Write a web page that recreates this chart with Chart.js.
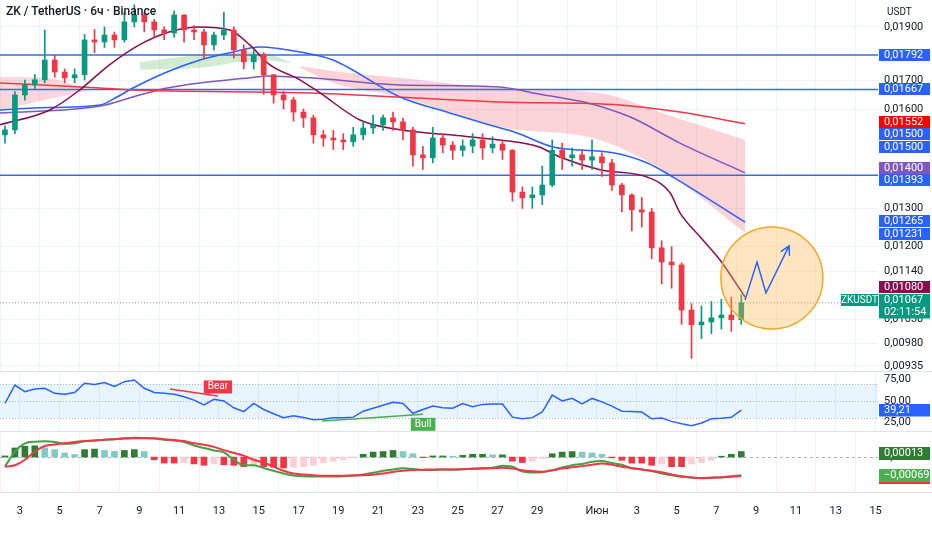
<!DOCTYPE html>
<html>
<head>
  <meta charset="UTF-8">
  <title>ZK / TetherUS · 6ч · Binance</title>
  <script src="https://cdn.jsdelivr.net/npm/chart.js"></script>
  <style>
    body { margin: 0; background: #fff; font-family: Roboto, "Noto Sans", Arial; width: 932px; height: 550px; overflow: hidden; position: relative; }
    canvas { position: absolute; left: 0; }
    #title { position: absolute; left: 6px; top: 4px; font-size: 12px; color: #131722; font-weight: 500; z-index: 2; }
    #unit { position: absolute; left: 887px; top: 6px; font-size: 10px; color: #131722; z-index: 2; }
  </style>
</head>
<body>
  <div id="title">ZK / TetherUS · 6ч · Binance</div>
  <div id="unit">USDT</div>
  <canvas id="main" width="932" height="372" style="top:0"></canvas>
  <canvas id="rsi" width="932" height="60" style="top:372px"></canvas>
  <canvas id="macd" width="932" height="118" style="top:432px"></canvas>

  <script>
    // 12h candles, first one centred on 2 May 06:00 (x in days of May)
    const firstOpen = 0.01516;
    const closes = [0.01532,0.01648,0.01683,0.01701,0.01773,0.01729,0.01708,0.01719,0.01849,0.01841,
      0.01868,0.01849,0.01920,0.01948,0.01920,0.01888,0.01876,0.01948,0.01888,0.01880,
      0.01830,0.01868,0.01888,0.01811,0.01766,0.01792,0.01719,0.01648,0.01631,0.01590,
      0.01571,0.01516,0.01506,0.01500,0.01494,0.01516,0.01538,0.01548,0.01571,0.01558,
      0.01532,0.01454,0.01445,0.01506,0.01484,0.01468,0.01481,0.01500,0.01475,0.01487,
      0.01468,0.01345,0.01329,0.01337,0.01365,0.01468,0.01445,0.01454,0.01438,0.01448,
      0.01430,0.01365,0.01337,0.01296,0.01290,0.01197,0.01162,0.01155,0.01051,0.01019,
      0.01025,0.01034,0.01040,0.01030,0.01067];
    const highs = [0.01545,0.01660,0.01700,0.01720,0.01888,0.01790,0.01740,0.01740,0.01870,0.01890,
      0.01900,0.01880,0.01960,0.01990,0.01960,0.01930,0.01900,0.01965,0.01950,0.01905,
      0.01890,0.01880,0.01960,0.01900,0.01830,0.01810,0.01800,0.01720,0.01660,0.01640,
      0.01600,0.01580,0.01530,0.01530,0.01520,0.01540,0.01560,0.01580,0.01580,0.01590,
      0.01570,0.01540,0.01480,0.01540,0.01520,0.01495,0.01500,0.01520,0.01520,0.01510,
      0.01500,0.01470,0.01360,0.01360,0.01420,0.01500,0.01490,0.01475,0.01470,0.01500,
      0.01460,0.01440,0.01370,0.01340,0.01330,0.01300,0.01215,0.01200,0.01160,0.01065,
      0.01060,0.01070,0.01075,0.01080,0.01085];
    const lows = [0.01490,0.01520,0.01630,0.01670,0.01690,0.01710,0.01690,0.01690,0.01700,0.01800,
      0.01820,0.01820,0.01840,0.01900,0.01880,0.01860,0.01850,0.01860,0.01840,0.01850,
      0.01780,0.01810,0.01850,0.01780,0.01740,0.01740,0.01650,0.01620,0.01600,0.01560,
      0.01540,0.01490,0.01480,0.01470,0.01470,0.01480,0.01500,0.01520,0.01530,0.01530,
      0.01500,0.01420,0.01410,0.01430,0.01460,0.01440,0.01450,0.01460,0.01440,0.01460,
      0.01440,0.01320,0.01300,0.01300,0.01310,0.01360,0.01410,0.01420,0.01410,0.01410,
      0.01390,0.01350,0.01290,0.01240,0.01250,0.01170,0.01110,0.01100,0.01020,0.00950,
      0.00990,0.01000,0.01010,0.01005,0.01020];

    // moving averages (day, value)
    const maFastDays = [2.0,4.5,6.0,7.5,9.0,10.5,12.0,13.55,14.55,15.57,17.07,18.08,20.09,22.1,24.6,27.1,29.1,30.1,32.15,34.66,35.67,36.17,37.18,38.18,39.44];
    const maFastVals = [0.01548,0.01597,0.01665,0.01755,0.0183,0.0188,0.019,0.01888,0.0183,0.01755,0.01701,0.01655,0.01564,0.01532,0.01516,0.015,0.01478,0.01448,0.01409,0.01385,0.01343,0.01288,0.01225,0.01167,0.0108];
    const maMidDays = [2.0,3.66,7.03,7.88,8.68,10.39,12.05,13.71,15.07,17.08,18.73,22.1,24.6,26.27,27.98,29.79,32.8,34.5,35.82,39.44];
    const maMidVals = [0.01597,0.01604,0.01614,0.01641,0.01672,0.01729,0.01773,0.01803,0.01822,0.01803,0.01773,0.01641,0.01587,0.01554,0.01522,0.01478,0.0146,0.0143,0.01388,0.01263];
    const maSlowDays = [2.0,7.03,8.68,10.39,12.05,14.56,15.42,17.58,22.1,27.13,28.78,31.5,33.16,34.0,36.17,39.44];
    const maSlowVals = [0.01587,0.0161,0.01641,0.01672,0.0169,0.01708,0.01715,0.01708,0.01683,0.01676,0.01655,0.01621,0.01587,0.01564,0.0149,0.014];
    const maLongDays = [2.0,7.03,8.68,17.58,27.13,33.16,36.17,39.44];
    const maLongVals = [0.0169,0.01672,0.01665,0.01655,0.01624,0.01614,0.0159,0.01552];

    // clouds (top / bottom)
    const cloudADays = [2.0,4.26,6.52];
    const cloudATop = [0.01711,0.01708,0.01665];
    const cloudABot = [0.01597,0.01631,0.01665];
    const cloudBDays = [9.04,12.05,15.07,16.57];
    const cloudBTop = [0.01766,0.01792,0.01803,0.01766];
    const cloudBBot = [0.01737,0.01744,0.01773,0.01762];
    const cloudCDays = [17.08,18.73,22.10,27.13,32.15,35.67,39.44];
    const cloudCTop = [0.01751,0.01733,0.01708,0.01672,0.01654,0.01578,0.0150];
    const cloudCBot = [0.01745,0.0169,0.01641,0.01541,0.0150,0.01394,0.01235];

    const levels = [0.01792, 0.01667, 0.01393];
    const priceTicks = [0.019, 0.017, 0.016, 0.013, 0.012, 0.0114, 0.0103, 0.0098, 0.00935];
    const lastPrice = 0.01067;
    const labelVals = [0.01792, 0.01667, 0.01552, 0.01500, 0.01500, 0.01400, 0.01393, 0.01265, 0.01231, 0.01080, 0.01067];
    const labelCols = ['#2962ff','#2962ff','#ff0000','#2962ff','#2962ff','#7e57c2','#2962ff','#2962ff','#2962ff','#880e4f','#089981'];

    // forecast sketch (day, price)
    const arrowDays = [39.44, 40.04, 40.49, 41.65];
    const arrowVals = [0.01073, 0.01162, 0.01089, 0.01202];
    const circleDay = 40.79, circleVal = 0.01124;

    // RSI per candle
    const rsi = [47.2,68.8,61,64,65,59,58,60,70.8,69.5,71.6,67,72.7,74.7,65,60,59,58,55,51,
      45.5,52,50,42,37.4,47.2,40,35,30.4,32.5,30.5,28,28.5,30.4,30.4,31,38,41.5,45,48.4,
      47,35.5,40,44,42,41.5,47,43.3,46,46.5,46.5,31,29,30.4,37,57,50,53.1,46.5,53,
      49,44,38,37.5,37,29,30,26,23.3,21,24.1,29,29.6,30.8,39.21];
    const rsiTicks = [25, 50, 75];
    const bearDays = [10.54, 12.95], bearVals = [64.1, 55.9];
    const bullDays = [18.18, 23.26], bullVals = [26.5, 34.3];

    // MACD per candle
    const macd = [-0.00035,0.0002,0.0005,0.00056,0.00057,0.00055,0.00048,0.0005,0.00057,0.0006,
      0.00063,0.00065,0.00068,0.0007,0.00069,0.00067,0.00063,0.0006,0.00055,0.00042,
      0.00033,0.00024,0.00017,-0.0001,-0.0003,-0.0003,-0.0004,-0.0005,-0.0006,-0.00067,
      -0.0007,-0.00071,-0.00071,-0.00071,-0.0007,-0.00067,-0.00063,-0.00057,-0.0005,-0.00045,
      -0.00041,-0.00043,-0.00047,-0.00047,-0.00045,-0.00046,-0.00044,-0.00042,-0.0004,-0.00039,
      -0.00032,-0.00035,-0.00053,-0.00056,-0.00055,-0.00048,-0.00038,-0.0003,-0.00025,-0.00017,
      -0.00014,-0.00022,-0.00028,-0.00041,-0.00045,-0.00051,-0.0006,-0.00066,-0.00072,-0.00075,
      -0.00077,-0.00075,-0.00073,-0.0007,-0.00066];
    const signal = [-0.00035,-0.0003,-0.0001,0.0002,0.0004,0.00046,0.0005,0.00055,0.00058,0.0006,
      0.00063,0.00065,0.00067,0.00068,0.00068,0.00068,0.00065,0.00062,0.00058,0.0005,
      0.00045,0.00037,0.00025,0.00015,0.00005,-0.0001,-0.0002,-0.00035,-0.0005,-0.0006,
      -0.00063,-0.00066,-0.00068,-0.00068,-0.00068,-0.00067,-0.00066,-0.00064,-0.0006,-0.00054,
      -0.0005,-0.00047,-0.00046,-0.00045,-0.00045,-0.00045,-0.00044,-0.00043,-0.00042,-0.00041,
      -0.00039,-0.00042,-0.00048,-0.00052,-0.00053,-0.00048,-0.00042,-0.00037,-0.00033,-0.00028,
      -0.00023,-0.00028,-0.00035,-0.0004,-0.00045,-0.0005,-0.00055,-0.00063,-0.0007,-0.00074,
      -0.00076,-0.00075,-0.00074,-0.00072,-0.00069];
    const hist = [0.00004,0.00033,0.00039,0.00041,0.00033,0.00027,0.00015,0.00009,0.00027,0.00029,
      0.00024,0.00021,0.00024,0.00027,0.0002,-0.0001,-0.00022,-0.00022,-0.0002,-0.00025,
      -0.0003,-0.00025,-0.00028,-0.0003,-0.00035,-0.00028,-0.00035,-0.00037,-0.0004,-0.00037,
      -0.00035,-0.0003,-0.0002,-0.00015,-0.0001,-0.00002,0.0001,0.00018,0.0002,0.00024,
      0.0002,0.00012,-0.00002,0.00004,0.00004,0.00003,0.00006,0.0001,0.0001,0.00008,
      0.00008,-0.00015,-0.0002,-0.00015,-0.00005,0.00012,0.00018,0.0002,0.00018,0.00015,
      0.0001,-0.00003,-0.00012,-0.00022,-0.00022,-0.0003,-0.00025,-0.00035,-0.00035,-0.00025,
      -0.0002,-0.00012,0.00003,0.0001,0.0002];
    const histLast = 0.00013;

    const dayTicks = [3,5,7,9,11,13,15,17,19,21,23,25,27,29,32,34,36,38,40,42,44,46];
    const X_MIN = 2, X_MAX = 2 + 878 / 19.9;
    const day = i => 2.25 + 0.5 * i;
    const pts = (xs, ys) => xs.map((x, i) => ({ x: x, y: ys[i] }));
    const fmt = (v, d) => (v < 0 ? '−' : '') + Math.abs(v).toFixed(d).replace('.', ',');
    const FONT = { family: 'Roboto', size: 11 };
    const UP = '#089981', DOWN = '#f23645', GRID = '#f0f3fa';

    Chart.defaults.font.family = 'Roboto';
    Chart.defaults.animation = false;

    function xAxis(showLabels) {
      return {
        type: 'linear', min: X_MIN, max: X_MAX, offset: false,
        afterBuildTicks: s => { s.ticks = dayTicks.map(v => ({ value: v })); },
        afterFit: s => { s.height = showLabels ? 58 : 0; },
        grid: { color: GRID, drawTicks: false },
        border: { display: false },
        ticks: {
          display: showLabels, padding: 13, font: FONT, color: '#131722', maxRotation: 0, autoSkip: false,
          callback: v => v <= 31 ? String(v) : (v === 32 ? 'Июн' : String(v - 31))
        }
      };
    }
    function yAxis(ticks, extra) {
      return Object.assign({
        position: 'right', afterFit: s => { s.width = 54; }, border: { display: false },
        afterBuildTicks: s => { s.ticks = ticks.map(v => ({ value: v })); },
        ticks: { display: false }
      }, extra);
    }

    // tick labels drawn by hand so the chart area keeps the full pane height
    function drawTickLabels(chart, ticks, dec) {
      const { ctx, scales: { y } } = chart;
      ctx.save();
      ctx.fillStyle = '#131722'; ctx.font = '11px Roboto';
      ctx.textAlign = 'left'; ctx.textBaseline = 'middle';
      ticks.forEach(v => ctx.fillText(fmt(v, dec), 884, y.getPixelForValue(v)));
      ctx.restore();
    }

    function drawBox(ctx, y, h, color, lines) {
      ctx.fillStyle = color;
      ctx.fillRect(879, y, 51, h);
      ctx.fillStyle = '#fff';
      ctx.font = '11px Roboto';
      ctx.textBaseline = 'middle';
      ctx.textAlign = 'left';
      lines.forEach((t, i) => ctx.fillText(t, 884, y + 6.5 + i * 12));
    }

    function separator(ctx, py) {
      ctx.save();
      ctx.strokeStyle = '#e0e3eb'; ctx.lineWidth = 1;
      ctx.beginPath(); ctx.moveTo(0, py); ctx.lineTo(932, py); ctx.stroke();
      ctx.restore();
    }

    const opens = closes.map((c, i) => i === 0 ? firstOpen : closes[i - 1]);
    const candleCol = closes.map((c, i) => c >= opens[i] ? UP : DOWN);

    function lineDs(data, color, width, order, extra) {
      return Object.assign({ type: 'line', data: data, borderColor: color, borderWidth: width, pointRadius: 0,
        fill: false, order: order, cubicInterpolationMode: 'monotone' }, extra || {});
    }

    const mainPlugin = {
      id: 'mainDecor',
      beforeDatasetsDraw(chart) {
        const { ctx, chartArea: a, scales: { y } } = chart;
        const py = y.getPixelForValue(lastPrice);
        ctx.save();
        ctx.strokeStyle = '#9598a1'; ctx.lineWidth = 1; ctx.setLineDash([1, 2]);
        ctx.beginPath(); ctx.moveTo(a.left, py); ctx.lineTo(a.right, py); ctx.stroke();
        ctx.restore();
      },
      afterDatasetsDraw(chart) {
        const { ctx, scales: { x, y } } = chart;
        ctx.save();
        ctx.beginPath();
        ctx.arc(x.getPixelForValue(circleDay), y.getPixelForValue(circleVal), 51, 0, Math.PI * 2);
        ctx.fillStyle = 'rgba(255,183,77,0.35)'; ctx.fill();
        ctx.strokeStyle = '#f5a623'; ctx.lineWidth = 1.5; ctx.stroke();
        ctx.beginPath();
        arrowDays.forEach((d, i) => {
          const px = x.getPixelForValue(d), py = y.getPixelForValue(arrowVals[i]);
          i ? ctx.lineTo(px, py) : ctx.moveTo(px, py);
        });
        const n = arrowDays.length - 1;
        const ex = x.getPixelForValue(arrowDays[n]), ey = y.getPixelForValue(arrowVals[n]);
        const sx = x.getPixelForValue(arrowDays[n - 1]), sy = y.getPixelForValue(arrowVals[n - 1]);
        const ang = Math.atan2(ey - sy, ex - sx);
        ctx.moveTo(ex - 10 * Math.cos(ang - 0.5), ey - 10 * Math.sin(ang - 0.5));
        ctx.lineTo(ex, ey);
        ctx.lineTo(ex - 10 * Math.cos(ang + 0.5), ey - 10 * Math.sin(ang + 0.5));
        ctx.strokeStyle = '#2962ff'; ctx.lineWidth = 1.5; ctx.stroke();
        ctx.restore();
      },
      afterDraw(chart) {
        const { ctx, chartArea: a, scales: { y } } = chart;
        separator(ctx, a.bottom - 0.5);
        drawTickLabels(chart, priceTicks, 5);
        ctx.save();
        // value labels, overlapping ones spread around their mean
        const items = labelVals.map((v, i) => {
          const h = v === lastPrice ? 25 : 12.5;
          return { v: v, c: labelCols[i], h: h, y: y.getPixelForValue(v) };
        }).sort((p, q) => p.y - q.y);
        let groups = items.map(it => ({ items: [it], h: it.h, sum: it.y, n: 1, top: it.y - it.h / 2 }));
        let merged = true;
        while (merged) {
          merged = false;
          for (let i = 1; i < groups.length; i++) {
            const g1 = groups[i - 1], g2 = groups[i];
            if (g1.top + g1.h > g2.top) {
              const g = { items: g1.items.concat(g2.items), h: g1.h + g2.h, sum: g1.sum + g2.sum, n: g1.n + g2.n };
              g.top = g.sum / g.n - g.h / 2;
              groups.splice(i - 1, 2, g); merged = true; break;
            }
          }
        }
        groups.forEach(g => {
          let t = g.top;
          g.items.forEach(it => {
            const lines = [fmt(it.v, 5)];
            if (it.v === lastPrice) lines.push('02:11:54');
            drawBox(ctx, Math.round(t), it.h - 0.5, it.c, lines);
            if (it.v === lastPrice) {
              ctx.fillStyle = it.c; ctx.fillRect(841, Math.round(t), 37, 12);
              ctx.fillStyle = '#fff'; ctx.font = '10px Roboto'; ctx.textAlign = 'center';
              ctx.fillText('ZKUSDT', 859.5, Math.round(t) + 6.5);
            }
            t += it.h;
          });
        });
        ctx.restore();
      }
    };

    new Chart(document.getElementById('main'), {
      type: 'bar',
      data: {
        datasets: [
          lineDs(pts(cloudADays, cloudATop), 'transparent', 0, 10),
          lineDs(pts(cloudADays, cloudABot), 'transparent', 0, 10, { fill: '-1', backgroundColor: 'rgba(242,54,69,0.2)' }),
          lineDs(pts(cloudBDays, cloudBTop), 'transparent', 0, 10),
          lineDs(pts(cloudBDays, cloudBBot), 'transparent', 0, 10, { fill: '-1', backgroundColor: 'rgba(76,175,80,0.25)' }),
          lineDs(pts(cloudCDays, cloudCTop), 'transparent', 0, 10),
          lineDs(pts(cloudCDays, cloudCBot), 'transparent', 0, 10, { fill: '-1', backgroundColor: 'rgba(242,54,69,0.22)' }),
          ...levels.map(v => lineDs([{ x: X_MIN, y: v }, { x: X_MAX, y: v }], '#3a6be0', 1.5, 8)),
          lineDs(pts(maLongDays, maLongVals), '#f23645', 1.5, 5),
          lineDs(pts(maSlowDays, maSlowVals), '#7e57c2', 1.5, 5),
          lineDs(pts(maMidDays, maMidVals), '#2962ff', 1.5, 5),
          lineDs(pts(maFastDays, maFastVals), '#880e4f', 1.5, 4),
          { type: 'bar', order: 2, grouped: false, barThickness: 1, backgroundColor: candleCol,
            data: closes.map((c, i) => ({ x: day(i), y: [lows[i], highs[i]] })) },
          { type: 'bar', order: 1, grouped: false, barThickness: 5, backgroundColor: candleCol,
            data: closes.map((c, i) => ({ x: day(i), y: [opens[i], c] })) }
        ]
      },
      options: {
        responsive: false, maintainAspectRatio: false,
        layout: { padding: 0 },
        plugins: { legend: { display: false }, tooltip: { enabled: false } },
        scales: {
          x: xAxis(false),
          y: yAxis(priceTicks, { type: 'logarithmic', min: 0.009232, max: 0.0201, grid: { color: GRID, drawTicks: false } })
        }
      },
      plugins: [mainPlugin]
    });

    const rsiPlugin = {
      id: 'rsiDecor',
      beforeDatasetsDraw(chart) {
        const { ctx, chartArea: a, scales: { y } } = chart;
        ctx.save();
        ctx.fillStyle = 'rgba(33,150,243,0.1)';
        ctx.fillRect(a.left, y.getPixelForValue(70), a.right - a.left, y.getPixelForValue(30) - y.getPixelForValue(70));
        ctx.strokeStyle = '#b2b5be'; ctx.setLineDash([1, 2]); ctx.lineWidth = 1;
        [70, 50, 30].forEach(v => {
          const py = Math.round(y.getPixelForValue(v)) + 0.5;
          ctx.beginPath(); ctx.moveTo(a.left, py); ctx.lineTo(a.right, py); ctx.stroke();
        });
        ctx.restore();
      },
      afterDraw(chart) {
        const { ctx, chartArea: a, scales: { x, y } } = chart;
        separator(ctx, a.bottom - 0.5);
        drawTickLabels(chart, rsiTicks, 2);
        ctx.save();
        const tag = (txt, col, d, v, dy) => {
          const px = x.getPixelForValue(d), py = y.getPixelForValue(v) + dy;
          ctx.font = '10px Roboto';
          const w = ctx.measureText(txt).width + 8;
          ctx.fillStyle = col; ctx.fillRect(px - w / 2, py - 6.5, w, 13);
          ctx.fillStyle = '#fff'; ctx.textAlign = 'center'; ctx.textBaseline = 'middle';
          ctx.fillText(txt, px, py);
        };
        tag('Bear', '#f23645', bearDays[1], bearVals[1], -9);
        tag('Bull', '#4caf50', bullDays[1], bullVals[1], 10);
        const last = rsi[rsi.length - 1];
        drawBox(ctx, Math.round(y.getPixelForValue(last) - 6), 12.5, '#2962ff', [fmt(last, 2)]);
        ctx.restore();
      }
    };

    new Chart(document.getElementById('rsi'), {
      type: 'line',
      data: {
        datasets: [
          lineDs(pts(bearDays, bearVals), '#f23645', 1.5, 2),
          lineDs(pts(bullDays, bullVals), '#4caf50', 1.5, 2),
          lineDs(rsi.map((v, i) => ({ x: day(i), y: v })), '#2962ff', 1.5, 1, { cubicInterpolationMode: 'default', tension: 0 })
        ]
      },
      options: {
        responsive: false, maintainAspectRatio: false,
        layout: { padding: 0 },
        plugins: { legend: { display: false }, tooltip: { enabled: false } },
        scales: {
          x: xAxis(false),
          y: yAxis(rsiTicks, { min: 13.5, max: 84.1, grid: { display: false } })
        }
      },
      plugins: [rsiPlugin]
    });

    const histCol = hist.map((v, i) => {
      const prev = i ? hist[i - 1] : 0;
      if (v >= 0) return v >= prev ? '#2e7d32' : '#80cbc4';
      return v <= prev ? '#f23645' : '#ffcdd2';
    });

    const macdPlugin = {
      id: 'macdDecor',
      beforeDatasetsDraw(chart) {
        const { ctx, chartArea: a, scales: { y } } = chart;
        const py = Math.round(y.getPixelForValue(0)) + 0.5;
        ctx.save();
        ctx.strokeStyle = '#b2b5be'; ctx.setLineDash([3, 3]); ctx.lineWidth = 1;
        ctx.beginPath(); ctx.moveTo(a.left, py); ctx.lineTo(a.right, py); ctx.stroke();
        ctx.restore();
      },
      afterDraw(chart) {
        const { ctx, chartArea: a, scales: { y } } = chart;
        separator(ctx, a.bottom + 0.5);
        drawTickLabels(chart, [0], 5);
        ctx.save();
        drawBox(ctx, Math.round(y.getPixelForValue(hist[hist.length - 1])) - 5, 13, '#2e7d32', [fmt(histLast, 5)]);
        const my = Math.round(y.getPixelForValue(signal[signal.length - 1])) - 7;
        drawBox(ctx, my, 13, '#4caf50', [fmt(signal[signal.length - 1], 5)]);
        ctx.fillStyle = '#f23645'; ctx.fillRect(879, my + 13, 51, 2);
        ctx.restore();
      }
    };

    new Chart(document.getElementById('macd'), {
      type: 'bar',
      data: {
        datasets: [
          { type: 'bar', order: 3, grouped: false, barThickness: 6, backgroundColor: histCol,
            data: hist.map((v, i) => ({ x: day(i), y: v })) },
          lineDs(signal.map((v, i) => ({ x: day(i), y: v })), '#f23645', 2, 1),
          lineDs(macd.map((v, i) => ({ x: day(i), y: v })), '#43a047', 2, 2)
        ]
      },
      options: {
        responsive: false, maintainAspectRatio: false,
        layout: { padding: 0 },
        plugins: { legend: { display: false }, tooltip: { enabled: false } },
        scales: {
          x: xAxis(true),
          y: yAxis([0], { min: -0.00127, max: 0.00091, grid: { display: false } })
        }
      },
      plugins: [macdPlugin]
    });
  </script>
</body>
</html>
